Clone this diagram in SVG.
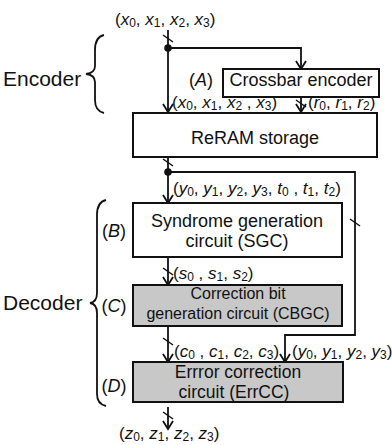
<svg xmlns="http://www.w3.org/2000/svg" width="392" height="445" viewBox="0 0 392 445">
<defs>
<style>
text{font-family:"Liberation Sans",Arial,sans-serif;fill:#111}
.box{fill:#fff;stroke:#111;stroke-width:2}
.gbox{fill:#c8c8c8;stroke:#111;stroke-width:2}
.t{font-size:18px;text-anchor:middle}
.t16{font-size:16px;text-anchor:middle}
.t17{font-size:17.5px;text-anchor:middle}
.big{font-size:21px}
.lab{font-size:17px}
.v{font-style:italic}
.s{font-size:12px;font-style:normal}
.ln{fill:none;stroke:#111;stroke-width:1.8}
.ah{fill:none;stroke:#111;stroke-width:1.8}
.sl{stroke:#111;stroke-width:1.5}
</style>
</defs>
<rect width="392" height="445" fill="#fff"/>

<g id="connectors">
<path class="ln" d="M168,30 V112"/>
<path class="ln" d="M168,48 H301 V68"/>
<path class="ln" d="M301,97 V112"/>
<path class="ln" d="M168,157 V202"/>
<path class="ln" d="M168,172 H355 V335 H285 V361"/>
<path class="ln" d="M168,257 V284"/>
<path class="ln" d="M168,326 V361"/>
<path class="ln" d="M168,407 V428"/>
<g class="ah">
<path d="M163,104 L168,112 L173,104"/>
<path d="M296,61 L301,69 L306,61"/>
<path d="M296,104 L301,112 L306,104"/>
<path d="M163,195 L168,203 L173,195"/>
<path d="M163,277 L168,285 L173,277"/>
<path d="M163,354 L168,362 L173,354"/>
<path d="M280,354 L285,362 L290,354"/>
<path d="M163,421 L168,429 L173,421"/>
</g>
<circle cx="168" cy="48" r="3.8" fill="#111"/>
<circle cx="168" cy="172" r="3.8" fill="#111"/>
<line class="sl" x1="163" y1="35" x2="173" y2="42"/>
<line class="sl" x1="296" y1="100" x2="306" y2="107"/>
<line class="sl" x1="163" y1="159" x2="173" y2="166"/>
<line class="sl" x1="350" y1="219" x2="360" y2="226"/>
<line class="sl" x1="163" y1="268" x2="173" y2="275"/>
<line class="sl" x1="163" y1="338" x2="173" y2="345"/>
<line class="sl" x1="163" y1="412" x2="173" y2="419"/>
</g>

<g id="braces" fill="none" stroke="#111" stroke-width="1.8">
<path d="M104,35 Q95,37 95,50 V66 Q95,73 86,74 Q95,75 95,82 V100 Q95,111 104,113"/>
<path d="M106,200 Q97,202 97,215 V293 Q97,302 90,303 Q97,304 97,313 V394 Q97,404 106,406"/>
</g>

<g id="labels">
<text class="big" x="3" y="86">Encoder</text>
<text class="big" x="3" y="310">Decoder</text>
<text class="lab" x="115" y="25">(<tspan class="v">x</tspan><tspan class="s" dy="1.5">0</tspan><tspan dy="-1.5">, </tspan><tspan class="v">x</tspan><tspan class="s" dy="1.5">1</tspan><tspan dy="-1.5">, </tspan><tspan class="v">x</tspan><tspan class="s" dy="1.5">2</tspan><tspan dy="-1.5">, </tspan><tspan class="v">x</tspan><tspan class="s" dy="1.5">3</tspan><tspan dy="-1.5">)</tspan></text>
<text class="lab" x="172" y="108">(<tspan class="v">x</tspan><tspan class="s" dy="1.5">0</tspan><tspan dy="-1.5">, </tspan><tspan class="v">x</tspan><tspan class="s" dy="1.5">1</tspan><tspan dy="-1.5">, </tspan><tspan class="v">x</tspan><tspan class="s" dy="1.5">2</tspan><tspan dy="-1.5"> , </tspan><tspan class="v">x</tspan><tspan class="s" dy="1.5">3</tspan><tspan dy="-1.5">)</tspan></text>
<text class="lab" x="308" y="108">(<tspan class="v">r</tspan><tspan class="s" dy="1.5">0</tspan><tspan dy="-1.5">, </tspan><tspan class="v">r</tspan><tspan class="s" dy="1.5">1</tspan><tspan dy="-1.5">, </tspan><tspan class="v">r</tspan><tspan class="s" dy="1.5">2</tspan><tspan dy="-1.5">)</tspan></text>
<text class="lab" x="173" y="194">(<tspan class="v">y</tspan><tspan class="s" dy="1.5">0</tspan><tspan dy="-1.5">, </tspan><tspan class="v">y</tspan><tspan class="s" dy="1.5">1</tspan><tspan dy="-1.5">, </tspan><tspan class="v">y</tspan><tspan class="s" dy="1.5">2</tspan><tspan dy="-1.5">, </tspan><tspan class="v">y</tspan><tspan class="s" dy="1.5">3</tspan><tspan dy="-1.5">, </tspan><tspan class="v">t</tspan><tspan class="s" dy="1.5">0</tspan><tspan dy="-1.5"> , </tspan><tspan class="v">t</tspan><tspan class="s" dy="1.5">1</tspan><tspan dy="-1.5">, </tspan><tspan class="v">t</tspan><tspan class="s" dy="1.5">2</tspan><tspan dy="-1.5">)</tspan></text>
<text class="lab" x="173" y="279">(<tspan class="v">s</tspan><tspan class="s" dy="1.5">0</tspan><tspan dy="-1.5"> , </tspan><tspan class="v">s</tspan><tspan class="s" dy="1.5">1</tspan><tspan dy="-1.5">, </tspan><tspan class="v">s</tspan><tspan class="s" dy="1.5">2</tspan><tspan dy="-1.5">)</tspan></text>
<text class="lab" x="174" y="357">(<tspan class="v">c</tspan><tspan class="s" dy="1.5">0</tspan><tspan dy="-1.5"> , </tspan><tspan class="v">c</tspan><tspan class="s" dy="1.5">1</tspan><tspan dy="-1.5">, </tspan><tspan class="v">c</tspan><tspan class="s" dy="1.5">2</tspan><tspan dy="-1.5">, </tspan><tspan class="v">c</tspan><tspan class="s" dy="1.5">3</tspan><tspan dy="-1.5">)</tspan></text>
<text class="lab" x="292" y="357">(<tspan class="v">y</tspan><tspan class="s" dy="1.5">0</tspan><tspan dy="-1.5">, </tspan><tspan class="v">y</tspan><tspan class="s" dy="1.5">1</tspan><tspan dy="-1.5">, </tspan><tspan class="v">y</tspan><tspan class="s" dy="1.5">2</tspan><tspan dy="-1.5">, </tspan><tspan class="v">y</tspan><tspan class="s" dy="1.5">3</tspan><tspan dy="-1.5">)</tspan></text>
<text class="lab" x="119" y="439">(<tspan class="v">z</tspan><tspan class="s" dy="1.5">0</tspan><tspan dy="-1.5">, </tspan><tspan class="v">z</tspan><tspan class="s" dy="1.5">1</tspan><tspan dy="-1.5">, </tspan><tspan class="v">z</tspan><tspan class="s" dy="1.5">2</tspan><tspan dy="-1.5">, </tspan><tspan class="v">z</tspan><tspan class="s" dy="1.5">3</tspan><tspan dy="-1.5">)</tspan></text>
<text class="t" x="201" y="86">(<tspan class="v">A</tspan>)</text>
<text class="t" x="114" y="237">(<tspan class="v">B</tspan>)</text>
<text class="t" x="114" y="312">(<tspan class="v">C</tspan>)</text>
<text class="t" x="114" y="392">(<tspan class="v">D</tspan>)</text>
</g>

<g id="crossbar">
<rect class="box" x="223" y="69" width="156" height="28"/>
<text class="t" x="301" y="86">Crossbar encoder</text>
</g>
<g id="reram">
<rect class="box" x="133" y="113" width="244" height="44"/>
<text class="t" x="255" y="144">ReRAM storage</text>
</g>
<g id="sgc">
<rect class="box" x="133" y="203" width="209" height="54"/>
<text class="t" x="237" y="227">Syndrome generation</text>
<text class="t" x="237" y="247">circuit (SGC)</text>
</g>
<g id="cbgc">
<rect class="gbox" x="133" y="285" width="209" height="41"/>
<text class="t16" x="238" y="299">Correction bit</text>
<text class="t16" x="238" y="319">generation circuit (CBGC)</text>
</g>
<g id="errcc">
<rect class="gbox" x="133" y="362" width="210" height="40"/>
<text class="t17" x="238" y="378">Errror correction</text>
<text class="t17" x="234" y="398">circuit (ErrCC)</text>
</g>
</svg>
